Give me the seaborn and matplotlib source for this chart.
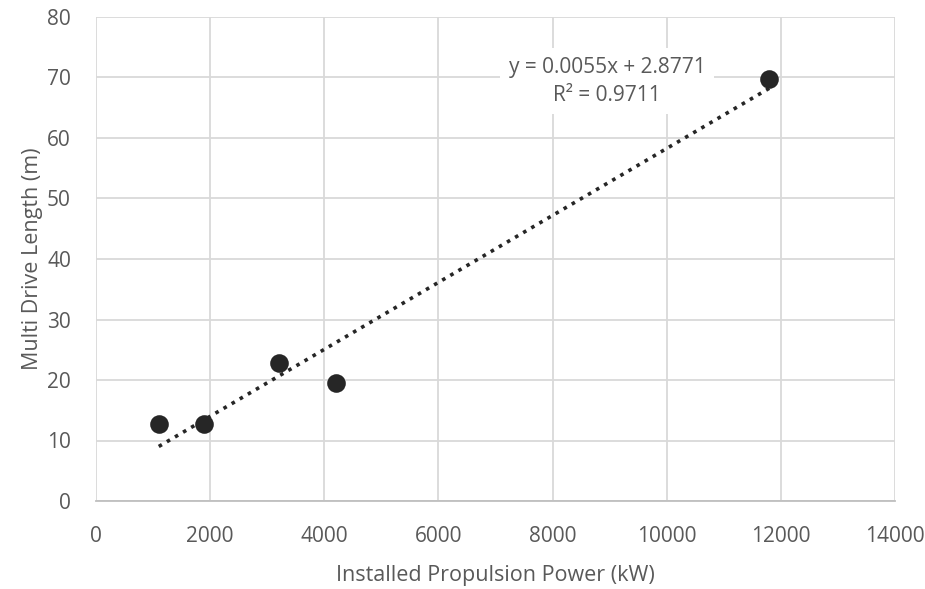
import numpy as np
import pandas as pd
import matplotlib
matplotlib.use("Agg")
import matplotlib.pyplot as plt
import seaborn as sns

power_kw = [1100, 1900, 3200, 4200, 11800]
drive_length_m = [12.7, 12.7, 22.8, 19.5, 69.8]
x_ticks = [0, 2000, 4000, 6000, 8000, 10000, 12000, 14000]
y_ticks = [0, 10, 20, 30, 40, 50, 60, 70, 80]
eq_text = "y = 0.0055x + 2.8771\nR² = 0.9711"

df = pd.DataFrame({"power": power_kw, "length": drive_length_m})

sns.set_theme(style="white")
plt.rcParams["font.family"] = ["Open Sans", "DejaVu Sans"]

fig = plt.figure(figsize=(9.25, 5.89), dpi=100)
ax = fig.add_axes([96 / 925, (589 - 501) / 589, (895 - 96) / 925, (501 - 17) / 589])

grey = "#595959"
grid = "#d9d9d9"

# trendline
slope, intercept = np.polyfit(df["power"], df["length"], 1)
xs = np.array([min(power_kw), max(power_kw)])
ax.plot(xs, slope * xs + intercept, linestyle=(0, (1, 1.6)), color="#262626", linewidth=2.6, zorder=3)

sns.scatterplot(data=df, x="power", y="length", ax=ax, s=180, color="#262626",
                edgecolor="#262626", linewidth=0, zorder=4)

ax.set_xlim(0, 14000)
ax.set_ylim(0, 80)
ax.set_xticks(x_ticks)
ax.set_yticks(y_ticks)
ax.grid(True, color=grid, linewidth=1.3)
ax.set_axisbelow(True)
for s in ["top", "right", "left"]:
    ax.spines[s].set_visible(False)
ax.spines["bottom"].set_color("#bfbfbf")
ax.spines["bottom"].set_linewidth(1.3)
ax.tick_params(axis="x", colors=grey, labelsize=15, length=0, pad=18)
ax.tick_params(axis="y", colors=grey, labelsize=15, length=0, pad=18)
ax.set_xlabel("Installed Propulsion Power (kW)", color=grey, fontsize=15.5, labelpad=13)
ax.set_ylabel("Multi Drive Length (m)", color=grey, fontsize=15.5, labelpad=3)

ax.text(8954, 69.4, eq_text, ha="center", va="center", fontsize=15, color=grey,
        linespacing=1.45, zorder=5,
        bbox=dict(facecolor="white", edgecolor="none", pad=6))

fig.savefig("out.png", dpi=100)
